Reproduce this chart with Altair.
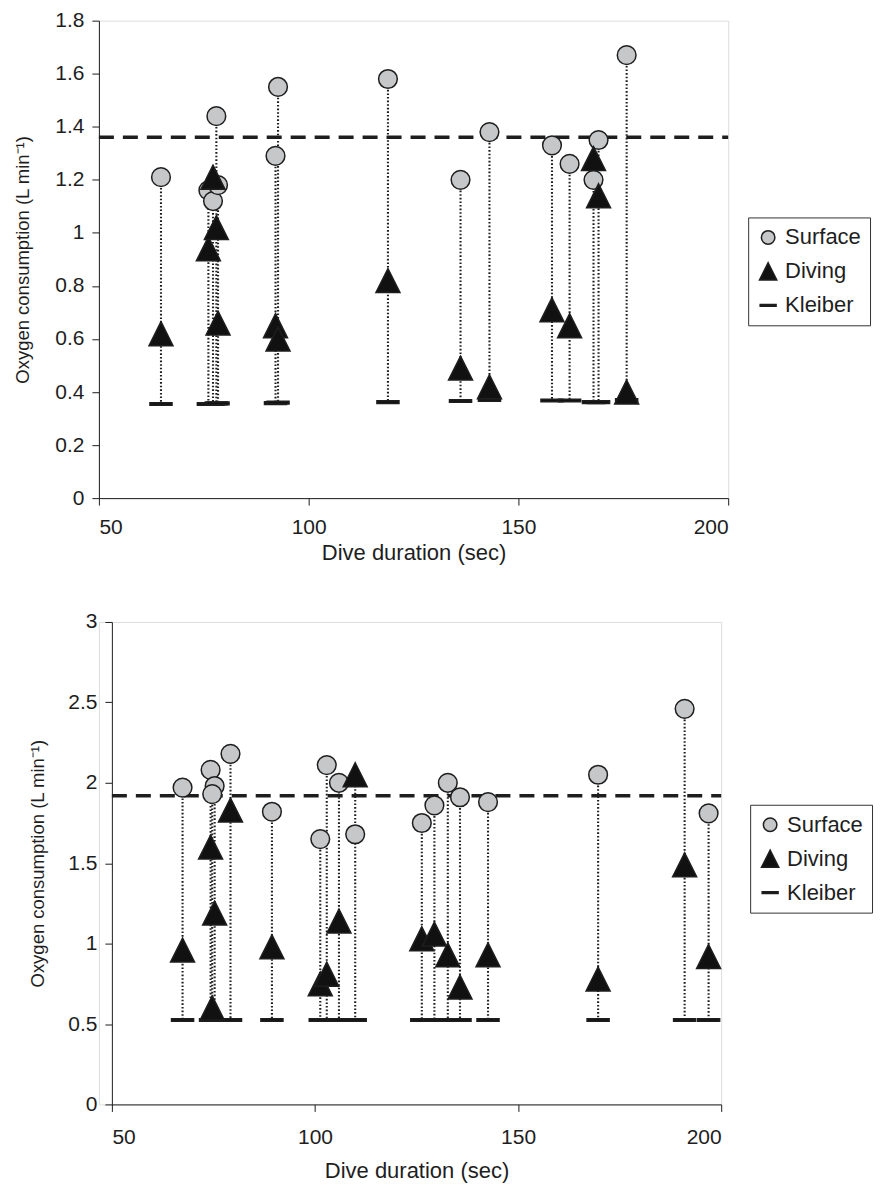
import altair as alt
import pandas as pd

# ---------------- data ----------------
series_names = ["Surface", "Diving", "Kleiber"]

top_x = [64.8, 76.1, 77.2, 78.0, 78.4, 92.1, 92.7, 118.9, 136.2, 143.1, 158.0, 162.2, 167.9, 169.1, 175.8]
top_surface = [1.21, 1.16, 1.12, 1.44, 1.18, 1.29, 1.55, 1.58, 1.20, 1.38, 1.33, 1.26, 1.20, 1.35, 1.67]
top_diving = [0.62, 0.94, 1.21, 1.02, 0.66, 0.65, 0.60, 0.82, 0.49, 0.42, 0.71, 0.65, 1.28, 1.14, 0.40]
top_kleiber = [0.355, 0.355, 0.355, 0.357, 0.357, 0.358, 0.36, 0.362, 0.366, 0.37, 0.368, 0.368, 0.362, 0.362, 0.37]
top_ref = 1.36
top_yticks = [0, 0.2, 0.4, 0.6, 0.8, 1, 1.2, 1.4, 1.6, 1.8]

bot_x = [67.4, 74.3, 75.3, 74.7, 79.2, 89.4, 101.3, 102.9, 105.9, 109.9, 126.3, 129.4, 132.7, 135.7, 142.6, 169.7, 191.0, 196.9]
bot_surface = [1.97, 2.08, 1.98, 1.93, 2.18, 1.82, 1.65, 2.11, 2.00, 1.68, 1.75, 1.86, 2.00, 1.91, 1.88, 2.05, 2.46, 1.81]
bot_diving = [0.96, 1.60, 1.19, 0.60, 1.83, 0.98, 0.75, 0.81, 1.14, 2.05, 1.03, 1.06, 0.93, 0.73, 0.93, 0.78, 1.49, 0.92]
bot_kleiber = [0.525] * 18
bot_ref = 1.92
bot_yticks = [0, 0.5, 1, 1.5, 2, 2.5, 3]

x_ticks = [50, 100, 150, 200]
x_domain = [50, 200]

INK = "#1e1e1e"
CIRCLE_PATH = "M-0.78,0A0.78,0.78 0 1,0 0.78,0A0.78,0.78 0 1,0 -0.78,0Z"
TRI_PATH = "M0,-1L1,1L-1,1Z"
KLEIBER_PATH = "M-0.92,-0.11L0.92,-0.11L0.92,0.11L-0.92,0.11Z"
FONT = "Liberation Sans, Arial, sans-serif"


def long_points(xs, surf, dive, kl):
    rows = []
    for x, k in zip(xs, kl):
        rows.append({"x": x, "series": "Kleiber", "y": k})
    for x, s in zip(xs, surf):
        rows.append({"x": x, "series": "Surface", "y": s})
    for x, d in zip(xs, dive):
        rows.append({"x": x, "series": "Diving", "y": d})
    return pd.DataFrame(rows)


def rule_frame(xs, surf, dive, kl):
    return pd.DataFrame({"x": xs, "top": [max(s, d) for s, d in zip(surf, dive)], "bottom": kl})


def panel(xs, surf, dive, kl, ref, ydom, yticks, width, height, x_left, legx, legy,
          ytitle_pad, xlabel_pad, xtitle_pad):
    xsc = alt.Scale(domain=x_domain, nice=False, zero=False, range=[x_left, width])
    ysc = alt.Scale(domain=ydom, nice=False, zero=True)
    xax = alt.Axis(values=x_ticks, title="Dive duration (sec)", grid=False, tickSize=7,
                   labelFont=FONT, titleFont=FONT, labelFontSize=21, titleFontSize=22,
                   labelPadding=xlabel_pad, titlePadding=xtitle_pad, titleFontWeight="normal",
                   domainColor=INK, tickColor=INK, labelColor=INK, titleColor=INK)
    yax = alt.Axis(values=yticks, format="~g", title="Oxygen consumption (L min\u207b\u00b9)",
                   grid=False, tickSize=7, labelFont=FONT, titleFont=FONT, labelFontSize=21,
                   titleFontSize=18.5, labelPadding=8, titlePadding=ytitle_pad, offset=-x_left,
                   titleFontWeight="normal", domainColor=INK, tickColor=INK,
                   labelColor=INK, titleColor=INK)

    rules = alt.Chart(rule_frame(xs, surf, dive, kl)).mark_rule(
        color=INK, strokeWidth=2.1, strokeDash=[1.6, 2.0]
    ).encode(
        x=alt.X("x:Q", scale=xsc, axis=xax),
        y=alt.Y("top:Q", scale=ysc, axis=yax),
        y2="bottom:Q",
    )
    refline = alt.Chart(pd.DataFrame({"ref": [ref], "x0": [x_domain[0]], "x1": [x_domain[1]]})).mark_rule(
        color=INK, strokeWidth=3.5, strokeDash=[15, 9]
    ).encode(x=alt.X("x0:Q", scale=xsc), x2="x1:Q", y=alt.Y("ref:Q", scale=ysc))

    legend = alt.Legend(title=None, orient="none", legendX=legx, legendY=legy,
                        fillColor="white", strokeColor="#333", padding=9,
                        labelFont=FONT, labelFontSize=22, labelColor=INK,
                        labelExpr="datum.label + '\u00a0\u00a0\u00a0'",
                        symbolSize=300, symbolStrokeWidth=1.5,
                        rowPadding=11, labelOffset=6)
    points = alt.Chart(long_points(xs, surf, dive, kl)).mark_point(
        filled=True, opacity=1, strokeWidth=1.5, size=576
    ).encode(
        x=alt.X("x:Q", scale=xsc),
        y=alt.Y("y:Q", scale=ysc),
        shape=alt.Shape("series:N", scale=alt.Scale(domain=series_names,
                        range=[CIRCLE_PATH, TRI_PATH, KLEIBER_PATH]), legend=legend),
        fill=alt.Fill("series:N", scale=alt.Scale(domain=series_names,
                      range=["#c6c7c9", "#111111", "#111111"]), legend=legend),
        stroke=alt.Stroke("series:N", scale=alt.Scale(domain=series_names,
                          range=[INK, INK, INK]), legend=legend),
    )
    # invisible helper so the legend (outside the plot) stays inside the page bounds
    extender = alt.Chart(pd.DataFrame({"a": [0]})).mark_point(opacity=0, size=1).encode(
        x=alt.value(legx + 136), y=alt.value(legy)
    )
    return alt.layer(rules, refline, points, extender).properties(width=width, height=height)


top = panel(top_x, top_surface, top_diving, top_kleiber, top_ref, [0, 1.8], top_yticks,
            630, 478, 0, 650, 197, 22, 11, 5)
bottom = panel(bot_x, bot_surface, bot_diving, bot_kleiber, bot_ref, [0, 3], bot_yticks,
               623, 483, 13, 652, 183, 20, 15, 13)

chart = alt.vconcat(top, bottom, spacing=124, bounds="flush").resolve_scale(
    x="independent", y="independent", shape="independent", fill="independent",
    stroke="independent"
).resolve_legend(shape="independent", fill="independent", stroke="independent").properties(
    padding={"left": 5, "top": 0, "right": 0, "bottom": 0}
).configure_view(stroke=None).configure(background="white")

chart.save("out.html", embed_options={"renderer": "svg", "actions": False})
